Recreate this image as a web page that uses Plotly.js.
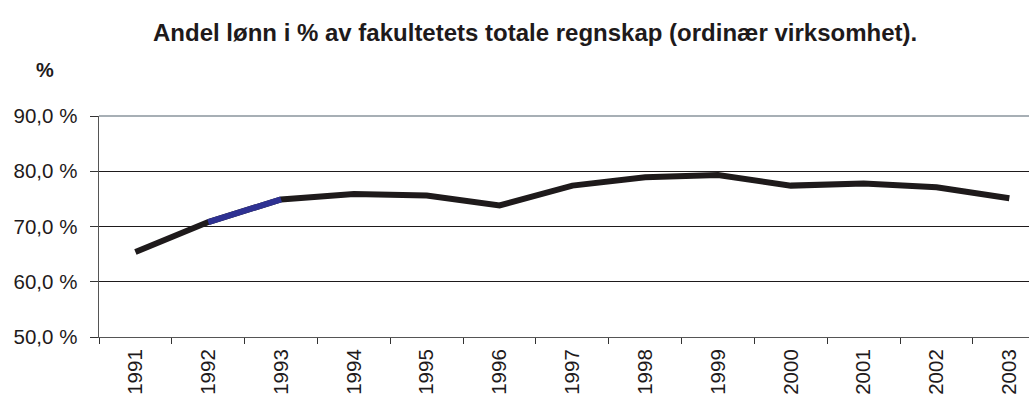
<!DOCTYPE html>
<html>
<head>
<meta charset="utf-8">
<script src="https://cdn.plot.ly/plotly-3.0.1.min.js"></script>
<style>html,body{margin:0;padding:0;background:#fff;}#chart{width:1029px;height:402px;}</style>
</head>
<body>
<div id="chart"></div>
<script>
var years = ['1991','1992','1993','1994','1995','1996','1997','1998','1999','2000','2001','2002','2003'];
var share = [65.4, 70.8, 74.9, 75.9, 75.6, 73.8, 77.4, 78.9, 79.3, 77.4, 77.8, 77.1, 75.1];
var highlightYears = ['1992','1993'];
var yTickVals = [50, 60, 70, 80, 90];
var yTickText = ['50,0 %', '60,0 %', '70,0 %', '80,0 %', '90,0 %'];
var titleText = 'Andel lønn i % av fakultetets totale regnskap (ordinær virksomhet).';

var highlightVals = highlightYears.map(function (y) { return share[years.indexOf(y)]; });

var traces = [
  {x: years, y: share, type: 'scatter', mode: 'lines',
   line: {color: '#1e1a1b', width: 6}, hoverinfo: 'x+y', showlegend: false},
  {x: highlightYears, y: highlightVals, type: 'scatter', mode: 'lines',
   line: {color: '#2e3192', width: 6}, showlegend: false}
];

var layout = {
  width: 1029, height: 402,
  paper_bgcolor: '#fff', plot_bgcolor: '#fff',
  margin: {l: 99, r: 0, t: 116, b: 65},
  font: {family: 'Liberation Sans, Arial, sans-serif', color: '#1e1a1b', size: 20},
  title: {text: '<b>' + titleText + '</b>', x: 0.52, xanchor: 'center', y: 0.92, yanchor: 'middle',
          font: {size: 24, family: 'Liberation Sans, Arial, sans-serif', color: '#1e1a1b'}},
  xaxis: {type: 'category', range: [-0.5, 12.27], tickangle: -90,
          tickson: 'boundaries', ticks: 'outside', ticklen: 6, tickcolor: '#333',
          ticklabelstandoff: 3,
          showline: true, linecolor: '#555', linewidth: 1, showgrid: false,
          tickfont: {size: 20.5}, fixedrange: true, automargin: false},
  yaxis: {range: [50, 90], tickvals: yTickVals, ticktext: yTickText,
          ticks: 'outside', ticklen: 8, tickcolor: '#333', ticklabelstandoff: 8,
          showline: true, linecolor: '#555', linewidth: 1.5,
          showgrid: true, gridcolor: '#1e1a1b', gridwidth: 1, zeroline: false,
          tickfont: {size: 20.5}, fixedrange: true, automargin: false},
  shapes: [
    {type: 'line', xref: 'paper', yref: 'paper', x0: 0, x1: 1, y0: 1, y1: 1,
     line: {color: '#8a949c', width: 1.5}}
  ],
  annotations: [
    {text: '<b>%</b>', xref: 'paper', yref: 'paper', x: -0.058, y: 1.21, xanchor: 'center', yanchor: 'middle',
     showarrow: false, font: {size: 20, color: '#1e1a1b'}}
  ]
};

Plotly.newPlot('chart', traces, layout, {displayModeBar: false, staticPlot: true});
</script>
</body>
</html>
